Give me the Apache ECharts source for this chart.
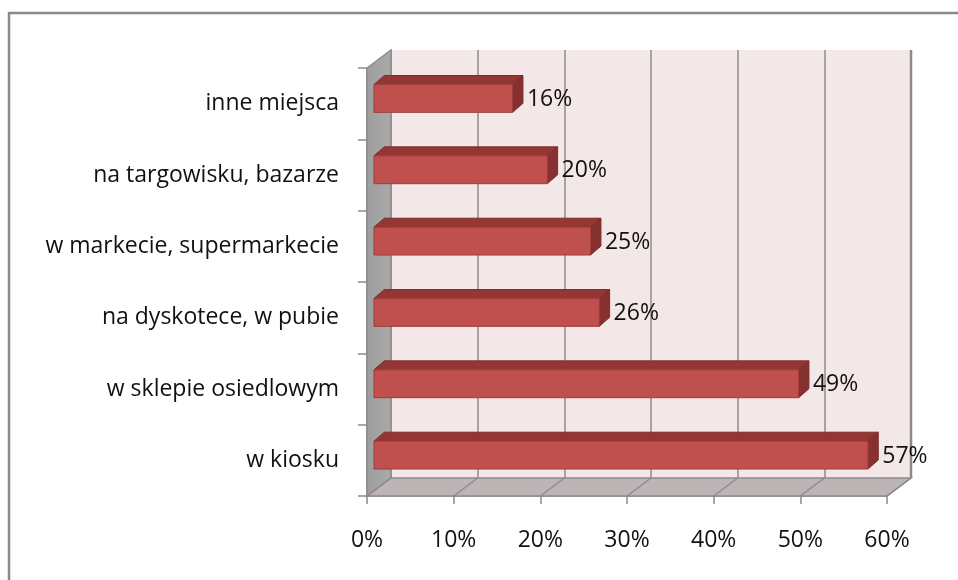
<!DOCTYPE html>
<html>
<head>
<meta charset="utf-8">
<script src="https://cdn.jsdelivr.net/npm/echarts@6/dist/echarts.min.js"></script>
<style>
  html, body { margin: 0; padding: 0; background: #fff; }
  #chart { width: 958px; height: 580px; }
</style>
</head>
<body>
<div id="chart"></div>
<script>
// top-down order, as in the picture
const categories = [
  'inne miejsca',
  'na targowisku, bazarze',
  'w markecie, supermarkecie',
  'na dyskotece, w pubie',
  'w sklepie osiedlowym',
  'w kiosku'
];
const values = [16, 20, 25, 26, 49, 57];
const xTicks = [0, 10, 20, 30, 40, 50, 60];

// depth of the 3d box (back wall offset)
const DX = 24, DY = -18;
const FONT = '"Open Sans", sans-serif';

const chart = echarts.init(document.getElementById('chart'));

const option = {
  backgroundColor: '#fff',
  animation: false,
  graphic: [{
    type: 'rect',
    shape: { x: 9, y: 13, width: 2000, height: 2000 },
    style: { fill: 'none', stroke: '#8a8a8a', lineWidth: 2.5 },
    silent: true
  }],
  grid: [
    // front plane
    { left: 367, right: 71, top: 68, bottom: 84 },
    // back wall
    { left: 391, right: 47, top: 50, bottom: 102, show: true, backgroundColor: '#F3E7E7', borderWidth: 0 }
  ],
  xAxis: [
    {
      gridIndex: 0, type: 'value', min: 0, max: 60, interval: 10,
      axisLine: { show: true, lineStyle: { color: '#8c8c8c', width: 1.5 } },
      axisTick: { show: true, length: 8, lineStyle: { color: '#8c8c8c', width: 1.5 } },
      axisLabel: { formatter: '{value}%', color: '#111', fontFamily: FONT, fontSize: 23, margin: 33 },
      splitLine: { show: false }
    },
    {
      gridIndex: 1, type: 'value', min: 0, max: 60, interval: 10,
      axisLine: { show: false }, axisTick: { show: false }, axisLabel: { show: false },
      splitLine: { show: true, lineStyle: { color: '#8c8c8c', width: 1.5 } }
    }
  ],
  yAxis: [
    {
      gridIndex: 0, type: 'category', data: categories, inverse: true,
      axisLine: { show: true, lineStyle: { color: '#8c8c8c', width: 1.5 } },
      axisTick: { show: true, length: 9, lineStyle: { color: '#8c8c8c', width: 1.5 } },
      axisLabel: { color: '#111', fontFamily: FONT, fontSize: 23, margin: 28 }
    },
    {
      gridIndex: 1, type: 'category', data: categories, inverse: true, show: false
    }
  ],
  series: [
    {
      // side wall and floor
      type: 'custom', xAxisIndex: 0, yAxisIndex: 0, silent: true, z: 1,
      data: [0],
      renderItem: function (params, api) {
        const cs = params.coordSys;
        const x = cs.x, y = cs.y, w = cs.width, h = cs.height;
        return {
          type: 'group',
          children: [
            {
              type: 'polygon',
              shape: { points: [[x, y], [x + DX, y + DY], [x + DX, y + h + DY], [x, y + h]] },
              style: {
                fill: new echarts.graphic.LinearGradient(0, 0, 1, 0, [
                  { offset: 0, color: '#9d9d9d' }, { offset: 1, color: '#aaaaaa' }
                ]),
                stroke: '#8c8c8c', lineWidth: 1.5
              }
            },
            {
              type: 'polygon',
              shape: { points: [[x, y + h], [x + DX, y + h + DY], [x + w + DX, y + h + DY], [x + w, y + h]] },
              style: { fill: '#BDB5B5', stroke: '#8c8c8c', lineWidth: 1.5 }
            },
            {
              type: 'line',
              shape: { x1: x + w + DX, y1: y + DY, x2: x + w + DX, y2: y + h + DY },
              style: { stroke: '#8a8a8a', lineWidth: 2.5 }
            }
          ]
        };
      }
    },
    {
      // floor grid lines
      type: 'custom', xAxisIndex: 0, yAxisIndex: 0, silent: true, z: 2,
      data: xTicks,
      renderItem: function (params, api) {
        const cs = params.coordSys;
        const px = api.coord([api.value(0), 0])[0];
        const by = cs.y + cs.height;
        return {
          type: 'line',
          shape: { x1: px, y1: by, x2: px + DX, y2: by + DY },
          style: { stroke: '#8c8c8c', lineWidth: 1.5 }
        };
      }
    },
    {
      // 3d bars
      type: 'custom', xAxisIndex: 0, yAxisIndex: 0, z: 3,
      data: values.map((v, i) => [v, i]),
      encode: { x: 0, y: 1 },
      renderItem: function (params, api) {
        const v = api.value(0), c = api.value(1);
        const p0 = api.coord([0, c]);
        const p1 = api.coord([v, c]);
        const band = api.size([0, 1])[1];
        const fh = band * 0.39;
        const ox = DX * 0.29, oy = DY * 0.29;
        const bdx = DX * 0.43, bdy = DY * 0.5;
        const x0 = p0[0] + ox, x1 = p1[0] + ox, yc = p0[1] + oy;
        const top = yc - fh / 2, bot = yc + fh / 2;
        return {
          type: 'group',
          children: [
            {
              type: 'polygon',
              shape: { points: [[x0, top], [x0 + bdx, top + bdy], [x1 + bdx, top + bdy], [x1, top]] },
              style: { fill: '#943634', stroke: '#7d2d2b', lineWidth: 1 }
            },
            {
              type: 'polygon',
              shape: { points: [[x1, top], [x1 + bdx, top + bdy], [x1 + bdx, bot + bdy], [x1, bot]] },
              style: { fill: '#863130', stroke: '#7d2d2b', lineWidth: 1 }
            },
            {
              type: 'rect',
              shape: { x: x0, y: top, width: x1 - x0, height: fh },
              style: { fill: '#C0504D', stroke: '#9e3d3a', lineWidth: 1 }
            },
            {
              type: 'text',
              x: x1 + bdx + 4, y: yc + 1,
              style: {
                text: v + '%', fill: '#111', font: '23px ' + FONT,
                align: 'left', verticalAlign: 'middle'
              }
            }
          ]
        };
      }
    }
  ]
};

chart.setOption(option);
</script>
</body>
</html>
